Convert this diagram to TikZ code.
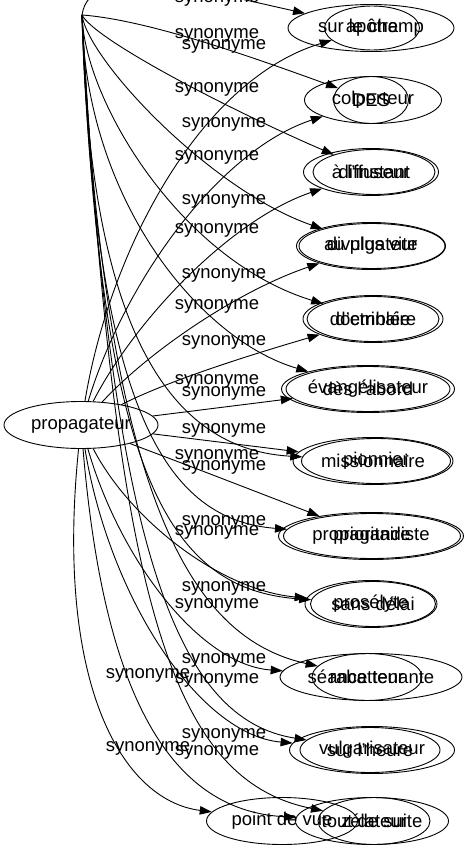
\documentclass[tikz,border=0pt]{standalone}
\usepackage{fontspec}
\setmainfont{Liberation Sans}
\usetikzlibrary{arrows.meta,shapes.geometric}

\begin{document}
\begin{tikzpicture}[x=1pt,y=-1pt,
    word/.style={draw,ellipse,inner sep=0pt,minimum height=47pt,line width=0.9pt,font=\fontsize{18.5}{20}\selectfont},
    lbl/.style={inner sep=0pt,font=\fontsize{18.5}{20}\selectfont},
    syn/.style={-{Triangle[length=12pt,width=8.5pt]},line width=0.9pt}]
    \useasboundingbox (0,0) rectangle (470,851);

    \node[word,minimum width=154pt] (p) at (81,425) {propagateur};
    \coordinate (apex) at (82,15);

    \node[word,minimum width=166pt] (r1o) at (371,28) {sur le champ};
    \node[word,minimum width=95pt,minimum height=44pt] (r1i) at (372,28) {apôtre};
    \node[word,minimum width=137pt] (r2o) at (373,100) {colporteur};
    \node[word,minimum width=75pt] (r2i) at (371,100) {DES};
    \node[word,minimum width=135pt] (r3a) at (371,172) {à l'instant};
    \node[word,minimum width=122pt,minimum height=45pt] (r3b) at (374,172) {diffuseur};
    \node[word,minimum width=149pt] (r4a) at (371,246) {au plus vite};
    \node[word,minimum width=146pt,minimum height=45pt] (r4b) at (372,246) {divulgateur};
    \node[word,minimum width=140pt] (r5a) at (373,319) {d'emblée};
    \node[word,minimum width=132pt,minimum height=45pt] (r5b) at (373,319) {doctrinaire};
    \node[word,minimum width=173pt] (r6a) at (368,389) {évangélisateur};
    \node[word,minimum width=164pt,minimum height=45pt] (r6b) at (368,389) {dès l'abord};
    \node[word,minimum width=160pt] (r7a) at (373,461) {missionnaire};
    \node[word,minimum width=149pt,minimum height=45pt] (r7b) at (376,461) {pionnier};
    \node[word,minimum width=185pt] (r8a) at (371,536) {propagandiste};
    \node[word,minimum width=177pt,minimum height=45pt] (r8b) at (372,536) {prioritaire};
    \node[word,minimum width=132pt] (r9a) at (371,604) {prosélyte};
    \node[word,minimum width=125pt,minimum height=45pt] (r9b) at (373,604) {sans délai};
    \node[word,minimum width=182pt] (r10a) at (371,677) {séance tenante};
    \node[word,minimum width=110pt] (r10b) at (367,677) {rabatteur};
    \node[word,minimum width=165pt] (r11a) at (372,750) {vulgarisateur};
    \node[word,minimum width=140pt,minimum height=45pt] (r11b) at (370,750) {sur l'heure};
    \node[word,minimum width=151pt] (pdv) at (282,821) {point de vue};
    \node[word,minimum width=153pt] (tds) at (372,821) {tout de suite};
    \node[word,minimum width=112pt] (zel) at (374,821) {zélateur};

    \draw[syn] (apex) .. controls (90,-40) and (200,-10) .. (r1o);
    \draw[syn] (apex) .. controls (150,20) and (260,60) .. (r2i);
    \draw[syn] (apex) .. controls (95,40) and (230,110) .. (r3b);
    \draw[syn] (apex) .. controls (88,60) and (210,190) .. (r4b);
    \draw[syn] (apex) .. controls (84,100) and (180,260) .. (r5b);
    \draw[syn] (apex) .. controls (85,200) and (200,340) .. (r6a);
    \draw[syn] (apex) .. controls (90,350) and (180,450) .. (r7b);
    \draw[syn] (apex) .. controls (95,420) and (170,520) .. (r8b);
    \draw[syn] (apex) .. controls (100,480) and (170,590) .. (r9b);
    \draw[syn] (apex) .. controls (105,520) and (200,640) .. (r10b);
    \draw[syn] (apex) .. controls (110,560) and (180,720) .. (r11b);
    \draw[syn] (apex) .. controls (115,600) and (170,780) .. (zel);

    \draw[syn] (p) .. controls (110,250) and (200,80) .. (r1i);
    \draw[syn] (p) .. controls (125,280) and (220,150) .. (r2o);
    \draw[syn] (p) .. controls (135,320) and (230,220) .. (r3a);
    \draw[syn] (p) .. controls (150,350) and (240,290) .. (r4a);
    \draw[syn] (p) .. controls (170,380) and (250,355) .. (r5a);
    \draw[syn] (p) -- (r6b);
    \draw[syn] (p) -- (r7a);
    \draw[syn] (p) .. controls (200,470) .. (r8a);
    \draw[syn] (p) .. controls (130,520) and (220,590) .. (r9a);
    \draw[syn] (p) .. controls (120,560) and (200,665) .. (r10a);
    \draw[syn] (p) .. controls (110,600) and (200,735) .. (r11a);
    \draw[syn] (p) .. controls (55,680) and (120,800) .. (pdv);
    \draw[syn] (p) .. controls (100,650) and (150,810) .. (tds);

    \node[lbl] at (217,-1) {synonyme};
    \node[lbl] at (217,35) {synonyme};
    \node[lbl] at (224,46) {synonyme};
    \node[lbl] at (217,89) {synonyme};
    \node[lbl] at (224,124) {synonyme};
    \node[lbl] at (217,157) {synonyme};
    \node[lbl] at (224,201) {synonyme};
    \node[lbl] at (217,230) {synonyme};
    \node[lbl] at (224,275) {synonyme};
    \node[lbl] at (217,306) {synonyme};
    \node[lbl] at (224,342) {synonyme};
    \node[lbl] at (217,381) {synonyme};
    \node[lbl] at (224,393) {synonyme};
    \node[lbl] at (224,430) {synonyme};
    \node[lbl] at (217,456) {synonyme};
    \node[lbl] at (224,467) {synonyme};
    \node[lbl] at (224,522) {synonyme};
    \node[lbl] at (217,532) {synonyme};
    \node[lbl] at (224,588) {synonyme};
    \node[lbl] at (217,605) {synonyme};
    \node[lbl] at (224,660) {synonyme};
    \node[lbl] at (148,675) {synonyme};
    \node[lbl] at (217,680) {synonyme};
    \node[lbl] at (224,735) {synonyme};
    \node[lbl] at (148,748) {synonyme};
    \node[lbl] at (217,752) {synonyme};
\end{tikzpicture}
\end{document}
